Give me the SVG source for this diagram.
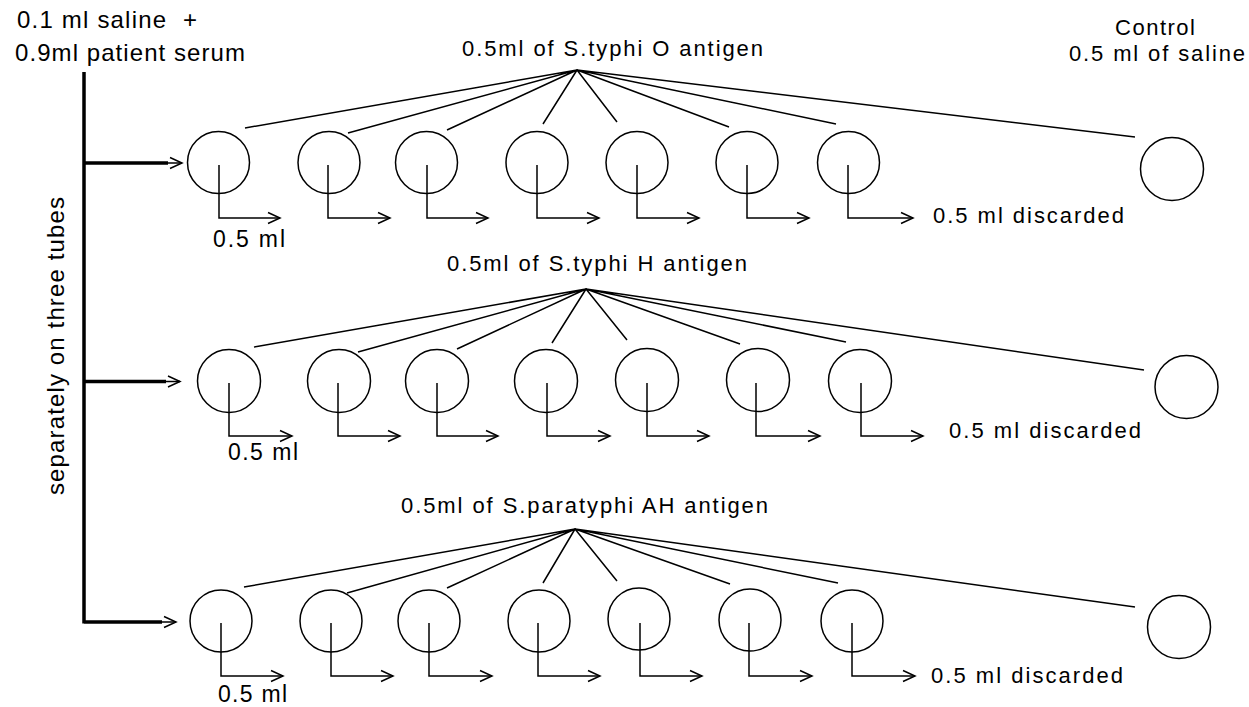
<svg xmlns="http://www.w3.org/2000/svg" width="1249" height="707" viewBox="0 0 1249 707">
<style>
text{font-family:"Liberation Sans",Arial,sans-serif;font-size:22px;fill:#000}
.tube{fill:none;stroke:#000;stroke-width:1.5}
.fan{fill:none;stroke:#000;stroke-width:1.5}
.tr{fill:none;stroke:#000;stroke-width:1.5;marker-end:url(#chev)}
.bus{fill:none;stroke:#000;stroke-width:3.5}
</style>
<defs>
<marker id="chev" markerUnits="userSpaceOnUse" markerWidth="16" markerHeight="14" refX="13" refY="7" orient="auto" viewBox="0 0 16 14">
<path d="M1,1.5 L13,7 L1,12.5" fill="none" stroke="#000" stroke-width="1.5"/>
</marker>
</defs>
<rect width="1249" height="707" fill="#fff"/>

<g id="serum">
<text x="17" y="28" textLength="180" lengthAdjust="spacing" style="font-size:24px">0.1 ml saline &#160;+</text>
<text x="15" y="61" textLength="230" lengthAdjust="spacing" style="font-size:24px">0.9ml patient serum</text>
</g>
<g id="control-label">
<text x="1115" y="35" textLength="80" lengthAdjust="spacing">Control</text>
<text x="1069" y="61" textLength="176" lengthAdjust="spacing">0.5 ml of saline</text>
</g>
<g id="side-label">
<text transform="translate(64,346) rotate(-90)" text-anchor="middle" textLength="298" lengthAdjust="spacing" style="font-size:24px">separately on three tubes</text>
</g>

<g id="antigen-O">
<text x="462" y="56" textLength="301" lengthAdjust="spacing">0.5ml of S.typhi O antigen</text>
</g>
<g id="antigen-H">
<text x="447" y="271" textLength="300" lengthAdjust="spacing">0.5ml of S.typhi H antigen</text>
</g>
<g id="antigen-AH">
<text x="401" y="513" textLength="367" lengthAdjust="spacing">0.5ml of S.paratyphi AH antigen</text>
</g>

<g id="labels-volume">
<text x="213" y="246.5" textLength="72" lengthAdjust="spacing" style="font-size:23px">0.5 ml</text>
<text x="933" y="222.5" textLength="191" lengthAdjust="spacing">0.5 ml discarded</text>
<text x="228" y="460" textLength="70" lengthAdjust="spacing" style="font-size:23px">0.5 ml</text>
<text x="949" y="438" textLength="192" lengthAdjust="spacing">0.5 ml discarded</text>
<text x="218" y="702" textLength="69" lengthAdjust="spacing" style="font-size:23px">0.5 ml</text>
<text x="931" y="683" textLength="192" lengthAdjust="spacing">0.5 ml discarded</text>
</g>

<g id="row1">
<g id="r1t1"><circle class="tube" cx="218.5" cy="162.5" r="31"/></g>
<g id="r1t2"><circle class="tube" cx="329" cy="162.5" r="31"/></g>
<g id="r1t3"><circle class="tube" cx="426.5" cy="162.5" r="31"/></g>
<g id="r1t4"><circle class="tube" cx="537" cy="162.5" r="31"/></g>
<g id="r1t5"><circle class="tube" cx="637" cy="162.5" r="31"/></g>
<g id="r1t6"><circle class="tube" cx="747" cy="162.5" r="31"/></g>
<g id="r1t7"><circle class="tube" cx="848.5" cy="162.5" r="31"/></g>
<g id="r1ctrl"><circle class="tube" cx="1172" cy="169" r="31.5"/></g>
</g>
<g id="row2">
<g id="r2t1"><circle class="tube" cx="229" cy="381" r="31.5"/></g>
<g id="r2t2"><circle class="tube" cx="339" cy="381" r="31.5"/></g>
<g id="r2t3"><circle class="tube" cx="437" cy="381" r="31.5"/></g>
<g id="r2t4"><circle class="tube" cx="546" cy="381" r="31.5"/></g>
<g id="r2t5"><circle class="tube" cx="647" cy="380" r="31.5"/></g>
<g id="r2t6"><circle class="tube" cx="758" cy="380" r="31.5"/></g>
<g id="r2t7"><circle class="tube" cx="860" cy="381" r="31.5"/></g>
<g id="r2ctrl"><circle class="tube" cx="1186.5" cy="387" r="31.5"/></g>
</g>
<g id="row3">
<g id="r3t1"><circle class="tube" cx="221" cy="621" r="31"/></g>
<g id="r3t2"><circle class="tube" cx="331" cy="621" r="31"/></g>
<g id="r3t3"><circle class="tube" cx="429" cy="621" r="31"/></g>
<g id="r3t4"><circle class="tube" cx="539" cy="621" r="31"/></g>
<g id="r3t5"><circle class="tube" cx="639" cy="619" r="31"/></g>
<g id="r3t6"><circle class="tube" cx="750" cy="620" r="31"/></g>
<g id="r3t7"><circle class="tube" cx="852" cy="621" r="31"/></g>
<g id="r3ctrl"><circle class="tube" cx="1179" cy="627" r="31.5"/></g>
</g>

<g id="connectors">
<path class="bus" d="M84,72 V623.5 M84,163 H168 M84,381.5 H166 M84,622 H162"/>
<path class="tr" d="M166,163 H182"/>
<path class="tr" d="M164,381.5 H180"/>
<path class="tr" d="M160,622 H176"/>

<path class="fan" d="M577,70 L245,128 M577,70 L348,133 M577,70 L447,130 M577,70 L543,124 M577,70 L617,122 M577,70 L729,127 M577,70 L836,124 M577,70 L1135,137"/>
<path class="tr" d="M219,165 V218 H280"/>
<path class="tr" d="M328,165 V218 H390"/>
<path class="tr" d="M427,165 V218 H488"/>
<path class="tr" d="M537,165 V218 H599"/>
<path class="tr" d="M637,165 V218 H699"/>
<path class="tr" d="M747,165 V218 H809"/>
<path class="tr" d="M848,165 V218 H913"/>

<path class="fan" d="M586,289 L254,347 M586,289 L358,352 M586,289 L457,349 M586,289 L552,343 M586,289 L627,340 M586,289 L740,344 M586,289 L846,342 M586,289 L1144,370"/>
<path class="tr" d="M229,383 V436 H292"/>
<path class="tr" d="M338,383 V436 H400"/>
<path class="tr" d="M437,383 V436 H498"/>
<path class="tr" d="M547,383 V436 H610"/>
<path class="tr" d="M647,383 V436 H709"/>
<path class="tr" d="M756,383 V436 H820"/>
<path class="tr" d="M861,383 V436 H923"/>

<path class="fan" d="M575,529 L244,587 M575,529 L347,593 M575,529 L447,588 M575,529 L543,583 M575,529 L617,581 M575,529 L730,584 M575,529 L838,583 M575,529 L1135,607"/>
<path class="tr" d="M221,623 V676 H283"/>
<path class="tr" d="M331,623 V676 H393"/>
<path class="tr" d="M429,623 V676 H492"/>
<path class="tr" d="M538,623 V676 H600"/>
<path class="tr" d="M640,623 V676 H702"/>
<path class="tr" d="M749,623 V676 H812"/>
<path class="tr" d="M852,623 V676 H915"/>
</g>
</svg>
